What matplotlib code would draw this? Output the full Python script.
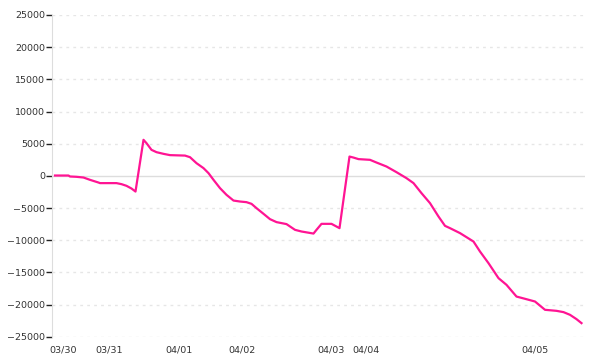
import matplotlib
matplotlib.use('Agg')
import matplotlib.pyplot as plt
import numpy as np

plt.rcParams['font.family'] = 'DejaVu Sans'

# sample position (bar index) and value
t = [0, 2.7, 3, 4.3, 5.7, 7, 8.7, 9, 12.3, 13.3, 14.3, 15.3, 16.1, 17.7, 18.3,
     19.3, 20.3, 21.7, 23, 26, 27, 28.3, 29.7, 30.7, 31.7, 33, 34.3, 35.7, 37,
     38.3, 39.3, 40.3, 41.7, 43, 44.3, 46.3, 48, 49.3, 51.7, 52.3, 53.3, 55.3,
     56.9, 58.9, 59.7, 60.7, 63, 64.3, 66.3, 68.3, 70.3, 71.7, 73.3, 75, 76.7,
     78, 79, 81, 82.3, 83.7, 85, 86.7, 88.7, 90.3, 92.3, 94, 96, 98, 100.3,
     101.7, 103, 104.3, 105.3]
pnl = [50, 50, -100, -150, -260, -620, -1040, -1130, -1130, -1290, -1550, -1970,
       -2440, 5600, 5080, 4040, 3680, 3420, 3220, 3150, 2900, 1970, 1200, 420,
       -620, -1910, -2950, -3840, -3990, -4090, -4350, -5020, -5900, -6730,
       -7190, -7500, -8390, -8650, -8970, -8390, -7460, -7460, -8130, 3000,
       2840, 2600, 2490, 2070, 1450, 570, -360, -1130, -2690, -4240, -6320,
       -7770, -8130, -8900, -9530, -10210, -11760, -13570, -15900, -16940,
       -18760, -19110, -19530, -20820, -20980, -21180, -21600, -22270, -22890]

day_pos = [1.6, 10.8, 24.8, 37.4, 55.2, 62.2, 96]
day_labels = ['03/30', '03/31', '04/01', '04/02', '04/03', '04/04', '04/05']
yticks = np.arange(-25000, 25001, 5000)

fig = plt.figure(figsize=(6, 3.6), dpi=100)
ax = fig.add_axes([52 / 600, 23.3 / 360, 533 / 600, 321.7 / 360])

for v in yticks:
    if v == 0:
        ax.axhline(0, color='#dddddd', lw=1, zorder=1)
    else:
        ax.axhline(v, color='#e6e6e6', lw=1, ls=(0, (2, 3)), zorder=1)

ax.plot(t, pnl, color='#ff1493', lw=1.6, zorder=3)

ax.set_xlim(-0.6, 106)
ax.set_ylim(-25000, 25000)
ax.set_yticks(yticks)
ax.set_yticklabels([str(v).replace('-', '\u2212') for v in yticks])
ax.set_xticks(day_pos)
ax.set_xticklabels(day_labels)

for s in ['top', 'right', 'bottom']:
    ax.spines[s].set_visible(False)
ax.spines['left'].set_color('#dddddd')
ax.tick_params(axis='y', length=4, width=1, color='#222222', labelcolor='#333333',
               labelsize=6.8, pad=1)
ax.tick_params(axis='x', length=0, labelcolor='#333333', labelsize=6.8, pad=6)

fig.savefig('out.png', dpi=100)
